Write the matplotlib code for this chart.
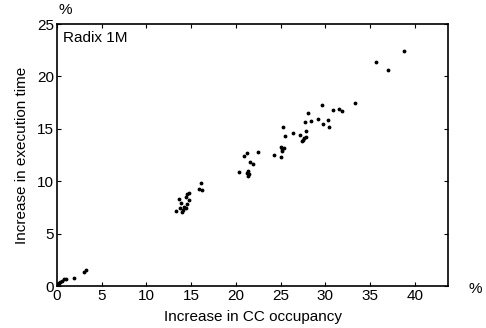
import numpy as np
import matplotlib.pyplot as plt

plt.rcParams['font.family'] = ['Liberation Sans', 'DejaVu Sans']

# increase in CC occupancy [%]
cc_occ = [0.07, 0.19, 0.37, 0.56, 0.8, 0.97, 1.86, 2.98, 3.27,
          13.3, 13.6, 13.7, 13.9, 13.95, 14.1, 14.2, 14.4, 14.4, 14.5, 14.5, 14.8, 14.8,
          15.9, 16.1, 16.2,
          20.35, 20.94, 21.2, 21.2, 21.3, 21.4, 21.5, 21.54, 21.95, 22.5,
          24.2, 25.04, 25.04, 25.15, 25.2, 25.23, 25.4, 25.53, 26.34,
          27.2, 27.35, 27.46, 27.6, 27.76, 27.8, 27.87, 28.0, 28.35,
          29.17, 29.58, 29.73, 30.29, 30.4, 30.88, 31.5, 31.85, 33.34,
          35.6, 36.95, 38.73]
# increase in execution time [%]
exec_time = [0.1, 0.25, 0.41, 0.5, 0.64, 0.7, 0.73, 1.34, 1.5,
             7.19, 8.27, 7.41, 7.95, 7.09, 7.25, 7.57, 8.52, 7.44, 8.75, 7.82, 8.9, 8.17,
             9.3, 9.83, 9.16,
             10.85, 12.44, 12.7, 10.81, 10.5, 10.97, 10.69, 11.83, 11.64, 12.75,
             12.5, 13.3, 12.34, 12.9, 13.07, 15.2, 13.17, 14.34, 14.63,
             14.44, 13.8, 13.93, 14.1, 15.62, 14.25, 14.82, 16.48, 15.71,
             15.97, 17.24, 15.46, 15.84, 15.2, 16.79, 16.92, 16.7, 17.5,
             21.4, 20.6, 22.39]

fig = plt.figure(figsize=(4.86, 3.28), dpi=100)
ax = fig.add_axes([0.1173, 0.128, 0.8045, 0.7988])
ax.plot(cc_occ, exec_time, 'k.', markersize=3.5)

ax.set_xlim(0, 43.7)
ax.set_ylim(0, 25)
ax.set_xticks(np.arange(0, 45, 5))
ax.set_yticks(np.arange(0, 30, 5))
for s in ax.spines.values():
    s.set_linewidth(1.2)
ax.tick_params(direction='in', top=True, right=True, labelsize=11, length=3, pad=2)
ax.set_xlabel('Increase in CC occupancy', fontsize=11, labelpad=5)
ax.set_ylabel('Increase in execution time', fontsize=11, labelpad=6)

ax.text(0.015, 0.975, 'Radix 1M', transform=ax.transAxes, fontsize=11, va='top')
ax.text(0.02, 1.055, '%', transform=ax.transAxes, fontsize=11, ha='center', va='center')
ax.text(1.07, -0.012, '%', transform=ax.transAxes, fontsize=11, ha='center', va='center')

fig.savefig('out.png', dpi=100)
